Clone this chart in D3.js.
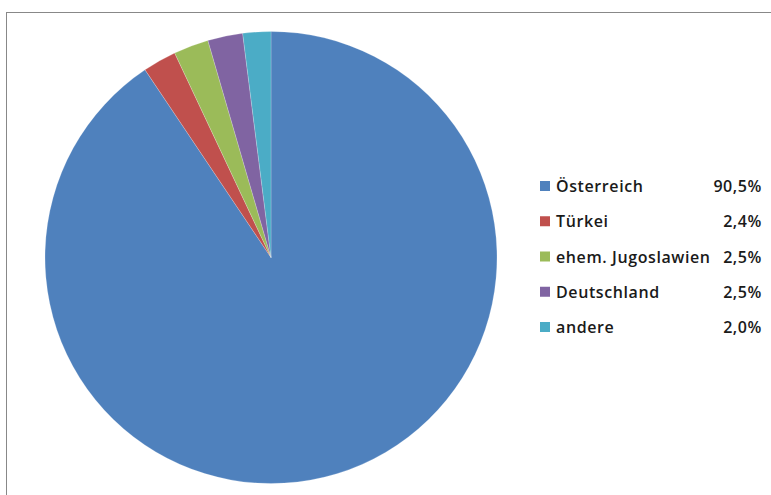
<!DOCTYPE html>
<html>
<head>
<meta charset="utf-8">
<script src="https://cdn.jsdelivr.net/npm/d3@7"></script>
<style>
  body { margin: 0; background: #fff; }
  svg { display: block; }
</style>
</head>
<body>
<div id="chart"></div>
<script>
const categories = ["Österreich", "Türkei", "ehem. Jugoslawien", "Deutschland", "andere"];
const values = [90.5, 2.4, 2.5, 2.5, 2.0];
const labels = ["90,5%", "2,4%", "2,5%", "2,5%", "2,0%"];
const colors = ["#4F81BD", "#C0504D", "#9BBB59", "#8064A2", "#4BACC6"];

const width = 771, height = 495;
const cx = 271, cy = 257.5, radius = 226;

const svg = d3.select("#chart")
  .append("svg")
  .attr("width", width)
  .attr("height", height);

// chart frame (right and bottom edges fall outside the picture)
svg.append("rect")
  .attr("x", 6.5)
  .attr("y", 12.5)
  .attr("width", width + 10)
  .attr("height", height + 10)
  .attr("fill", "none")
  .attr("stroke", "#888")
  .attr("stroke-width", 1);

const color = d3.scaleOrdinal().domain(categories).range(colors);

const pie = d3.pie().sort(null).value(d => d.value);
const arc = d3.arc().innerRadius(0).outerRadius(radius);

const data = categories.map((c, i) => ({ name: c, value: values[i], label: labels[i] }));

const g = svg.append("g")
  .attr("transform", `translate(${cx},${cy})`);

g.selectAll("path")
  .data(pie(data))
  .enter()
  .append("path")
  .attr("d", arc)
  .attr("fill", d => color(d.data.name))
  .attr("stroke", "#fff")
  .attr("stroke-width", 0.4)
  .attr("stroke-opacity", 0.5);

// legend
const y = d3.scalePoint()
  .domain(categories)
  .range([186, 327]);

const legend = svg.selectAll(".legend")
  .data(data)
  .enter()
  .append("g")
  .attr("class", "legend")
  .attr("transform", d => `translate(0,${y(d.name)})`);

legend.append("rect")
  .attr("x", 540)
  .attr("y", -5)
  .attr("width", 10)
  .attr("height", 10)
  .attr("fill", d => color(d.name));

legend.append("text")
  .attr("x", 556)
  .attr("y", 6)
  .style("font-family", "'Open Sans', sans-serif")
  .style("font-size", "16px")
  .style("font-weight", 600)
  .style("letter-spacing", "0.6px")
  .style("fill", "#1a1a1a")
  .text(d => d.name);

legend.append("text")
  .attr("x", 762)
  .attr("y", 6)
  .style("text-anchor", "end")
  .style("font-family", "'Open Sans', sans-serif")
  .style("font-size", "16px")
  .style("font-weight", 600)
  .style("letter-spacing", "0.6px")
  .style("fill", "#1a1a1a")
  .text(d => d.label);
</script>
</body>
</html>
